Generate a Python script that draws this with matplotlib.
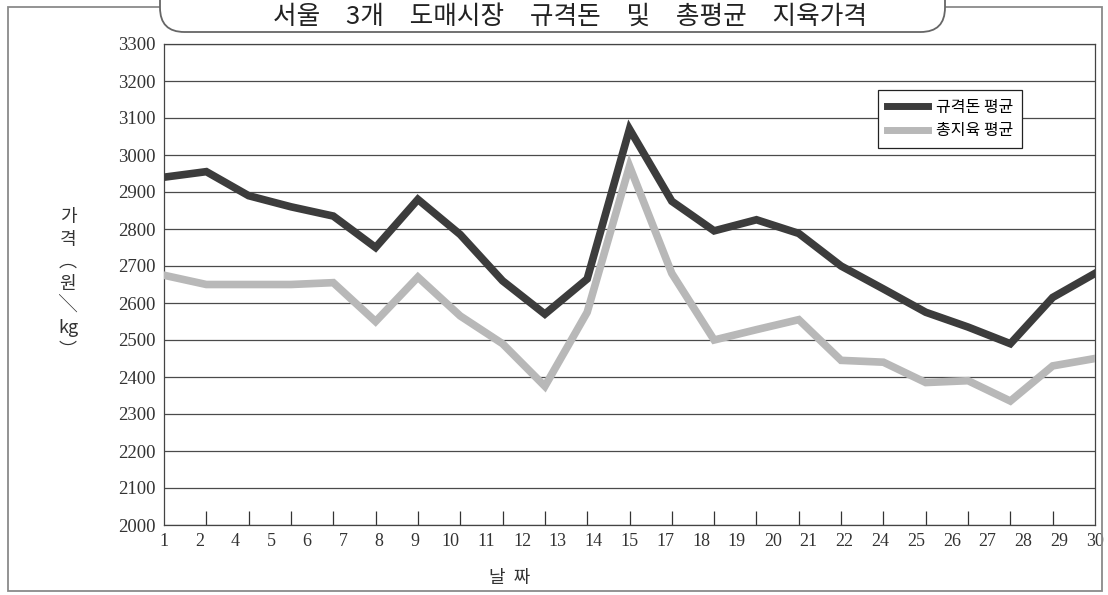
import numpy as np
import matplotlib
matplotlib.use('Agg')
import matplotlib.pyplot as plt
from matplotlib.patches import Rectangle, FancyBboxPatch

# --- 데이터 ---
day_labels = ['1', '2', '4', '5', '6', '7', '8', '9', '10', '11', '12', '13', '14',
              '15', '17', '18', '19', '20', '21', '22', '24', '25', '26', '27', '28',
              '29', '30']
# 그래프의 꺾은선 꼭짓점 (23개, 눈금 간격)
pork_avg = [2940, 2955, 2890, 2860, 2835, 2750, 2880, 2785, 2660, 2570, 2665, 3070,
            2875, 2795, 2825, 2788, 2700, 2638, 2575, 2535, 2490, 2615, 2680]
carcass_avg = [2675, 2650, 2650, 2650, 2655, 2550, 2670, 2565, 2490, 2375, 2575, 2970,
               2680, 2500, 2528, 2555, 2445, 2440, 2385, 2390, 2335, 2430, 2450]

title = '\u3000'.join(['서울', '3개', '도매시장', '규격돈', '및', '총평균', '지육가격'])
kr = ['Noto Sans CJK KR', 'DejaVu Sans']
serif = 'Liberation Serif'

W, H = 1108, 595
fig = plt.figure(figsize=(W / 100, H / 100), dpi=100)
ax = fig.add_axes([164 / W, 1 - 525 / H, (1095 - 164) / W, (525 - 44) / H])

x = np.arange(len(pork_avg))
ax.plot(x, pork_avg, color='#3c3c3c', lw=5.5, solid_joinstyle='miter', label='규격돈 평균', zorder=3)
ax.plot(x, carcass_avg, color='#b8b8b8', lw=5.5, solid_joinstyle='miter', label='총지육 평균', zorder=3)

ax.set_xlim(0, len(pork_avg) - 1)
ax.set_ylim(2000, 3300)
ax.set_yticks(range(2000, 3301, 100))
ax.grid(axis='y', color='#4a4a4a', lw=0.9)
ax.set_axisbelow(True)
ax.set_xticks(range(1, len(pork_avg) - 1))
ax.set_xticklabels([])
ax.tick_params(axis='x', direction='in', length=10, width=0.9, color='#333')
ax.tick_params(axis='y', length=0, pad=6, labelsize=13.5, labelcolor='#333')
for t in ax.get_yticklabels():
    t.set_fontfamily(serif)
for s in ax.spines.values():
    s.set_color('#444')
    s.set_linewidth(0.9)

# 날짜 라벨 (27개, 균등 배치)
ax2 = ax.twiny()
ax2.set_xlim(0, len(day_labels) - 1)
ax2.set_xticks(range(len(day_labels)))
ax2.set_xticklabels(day_labels, fontfamily=serif, fontsize=13, color='#333')
ax2.xaxis.set_ticks_position('bottom')
ax2.tick_params(axis='x', length=0, pad=6)
for s in ax2.spines.values():
    s.set_visible(False)

leg = ax.legend(loc='upper left', bbox_to_anchor=(878 / W, 1 - 90 / H),
                bbox_transform=fig.transFigure, borderaxespad=0, fancybox=False,
                edgecolor='#222', framealpha=1, prop={'family': kr, 'size': 11.5},
                handlelength=2.6, handletextpad=0.5, labelspacing=0.4, borderpad=0.55)
leg.get_frame().set_linewidth(0.9)
for line in leg.get_lines():
    line.set_linewidth(5)

# 축 제목
fig.text(68 / W, 1 - 284 / H, '가\n격\n︵\n원\n╲\nkg\n︶', ha='center', va='center',
         fontsize=13, linespacing=1.3, family=kr, color='#333')
fig.text(510 / W, 1 - 578 / H, '날  짜', ha='center', va='center', fontsize=13,
         family=kr, color='#333')

# 바깥 테두리와 제목 상자
fig.patches.append(Rectangle((8 / W, 1 - 591 / H), (1102 - 8) / W, (591 - 7) / H,
                             transform=fig.transFigure, fill=False, ec='#8a8a8a', lw=1.3))
fig.patches.append(FancyBboxPatch((160 / W, 1 - 32 / H), (945 - 160) / W, 60 / H,
                                  boxstyle='round,pad=0,rounding_size=0.022',
                                  mutation_aspect=W / H, transform=fig.transFigure,
                                  fc='white', ec='#666', lw=1.3, zorder=5))
fig.text(570 / W, 1 - 17 / H, title, ha='center', va='center', fontsize=18.5,
         family=kr, color='#222', zorder=6)

fig.savefig('out.png', dpi=100)
